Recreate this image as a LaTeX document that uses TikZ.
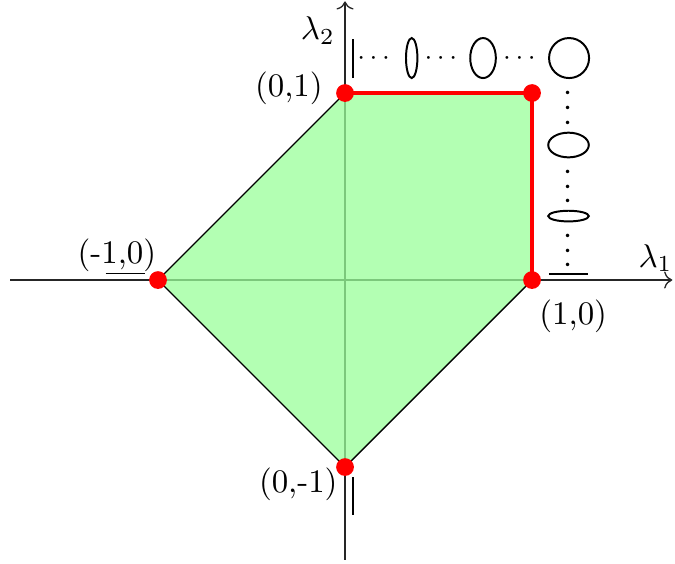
\documentclass[tikz,border=0pt]{standalone}
\usepackage{amsmath,amssymb}
\usepackage{tikz}
\usetikzlibrary{positioning, arrows.meta, calc}
\definecolor{clrRed}  {HTML}{FF0000}
\definecolor{clrFill} {HTML}{99FF99}

\begin{document}
\begin{tikzpicture}[
  axis/.style={->, thin, black!85},
  edge/.style={black, thin},
  hot/.style={clrRed, very thick},
  vtx/.style={circle, fill=clrRed, inner sep=0pt, minimum size=0.19cm},
  lbl/.style={inner sep=0pt},
  shp/.style={black, semithick},
  dots/.style={inner sep=0pt, font=\footnotesize},
  vdts/.style={inner sep=0pt, rotate=90},
]
\useasboundingbox (-3.690,-3.027) rectangle (3.529,2.995);

% axes
\coordinate (xlo) at (-3.58, 0);
\coordinate (xhi) at (3.50, 0);
\coordinate (ylo) at (0, -2.99);
\coordinate (yhi) at (0, 2.98);
\draw[axis] (xlo) -- (xhi);
\draw[axis] (ylo) -- (yhi);
\node[lbl] (l1) at (3.32, 0.235) {$\lambda_1$};
\node[lbl] (l2) at (-0.29, 2.67) {$\lambda_2$};

% feasible region
\coordinate (cW) at (-2, 0);
\coordinate (cN) at (0, 2);
\coordinate (cNE) at (2, 2);
\coordinate (cE) at (2, 0);
\coordinate (cS) at (0, -2);
\fill[clrFill, fill opacity=0.75] (cW) -- (cN) -- (cNE) -- (cE) -- (cS) -- cycle;
\draw[edge] (cE) -- (cS) -- (cW) -- (cN);
\draw[hot] (cN) -- (cNE) -- (cE);

\node[vtx] (pW) at (cW) {};
\node[vtx] (pN) at (cN) {};
\node[vtx] (pNE) at (cNE) {};
\node[vtx] (pE) at (cE) {};
\node[vtx] (pS) at (cS) {};

\node[lbl] (tN) at (-0.60, 2.05) {(0,1)};
\node[lbl] (tW) at (-2.44, 0.27) {(-1,0)};
\node[lbl] (tE) at (2.44, -0.385) {(1,0)};
\node[lbl] (tS) at (-0.50, -2.18) {(0,-1)};

% shapes along the top edge
\draw[shp] (0.082, 2.16) -- (0.082, 2.577);
\node[dots] (d1) at (0.33, 2.37) {$\cdots$};
\draw[shp] (0.713, 2.374) ellipse [x radius=0.061, y radius=0.214];
\node[dots] (d2) at (1.05, 2.37) {$\cdots$};
\draw[shp] (1.476, 2.374) ellipse [x radius=0.137, y radius=0.214];
\node[dots] (d3) at (1.89, 2.37) {$\cdots$};
\draw[shp] (2.396, 2.374) circle [radius=0.214];

% shapes along the right edge
\node[vdts] (v1) at (2.39, 1.87) {$\cdots$};
\draw[shp] (2.39, 1.444) ellipse [x radius=0.217, y radius=0.132];
\node[vdts] (v2) at (2.39, 1.027) {$\cdots$};
\draw[shp] (2.39, 0.684) ellipse [x radius=0.217, y radius=0.057];
\node[vdts] (v3) at (2.39, 0.342) {$\cdots$};
\draw[shp] (2.18, 0.064) -- (2.60, 0.064);

% degenerate shapes at the other vertices
\draw[shp] (-2.56, 0.07) -- (-2.14, 0.07);
\draw[shp] (0.082, -2.107) -- (0.082, -2.51);
\end{tikzpicture}
\end{document}
